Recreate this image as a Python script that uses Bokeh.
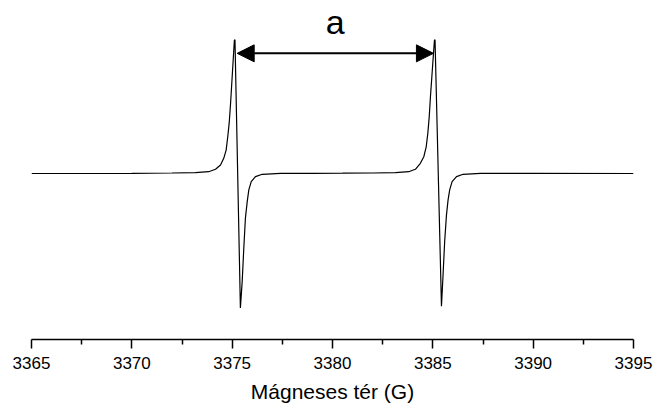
from bokeh.plotting import figure
from bokeh.models import Range1d, FixedTicker, Arrow, NormalHead, Label
from bokeh.embed import file_html
from bokeh.resources import INLINE

# Field (G) and EPR intensity (arb. units, baseline = 0)
field = [3365.00, 3370.00, 3372.00, 3373.17, 3373.83, 3374.17, 3374.42, 3374.58,
         3374.70, 3374.78, 3374.85, 3374.92, 3374.98, 3375.05, 3375.11, 3375.14,
         3375.41, 3375.50, 3375.58, 3375.66, 3375.75, 3375.83, 3375.95, 3376.16,
         3376.50, 3377.41, 3379.00, 3380.50, 3382.00,
         3383.14, 3383.80, 3384.13, 3384.38, 3384.55, 3384.67, 3384.75, 3384.82,
         3384.88, 3384.95, 3385.02, 3385.08, 3385.11,
         3385.43, 3385.51, 3385.59, 3385.68, 3385.76, 3385.84, 3385.96, 3386.18,
         3386.51, 3387.37, 3390.00, 3395.00]
intensity = [0.0, 0.2, 0.5, 0.8, 1.8, 4.2, 8.5, 15.2,
             23.5, 36.8, 50.2, 70.2, 90.2, 113.5, 133.5, 134.2,
             -134.8, -108.2, -74.8, -44.8, -28.2, -16.5, -8.2, -3.2,
             -0.8, 0.2, 0.2, 0.3, 0.5,
             0.8, 1.8, 4.2, 10.2, 16.8, 26.8, 40.2, 56.8,
             76.8, 96.8, 116.8, 133.5, 134.2,
             -133.2, -101.5, -68.2, -41.5, -26.5, -16.5, -8.2, -3.2,
             -0.8, 0.2, 0.1, 0.0]

major_ticks = [3365, 3370, 3375, 3380, 3385, 3390, 3395]
minor_ticks = [3367.5, 3372.5, 3377.5, 3382.5, 3387.5, 3392.5]

# splitting "a" between the two line centres
split_start = 3375.25
split_end = 3385.03
split_level = 120.5
split_label = "a"
label_level = 151.5

FONT = "Liberation Sans"

p = figure(width=653, height=405, output_backend="svg", toolbar_location=None,
           x_range=Range1d(3365, 3395), y_range=Range1d(-166.5, 173.5),
           y_axis_location=None, min_border_left=31, min_border_right=20,
           min_border_top=0, min_border_bottom=65)
p.outline_line_color = None
p.grid.visible = False
p.background_fill_color = "white"
p.border_fill_color = "white"

p.line(field, intensity, line_color="black", line_width=1.2)

p.add_layout(Arrow(x_start=split_start, x_end=split_end, y_start=split_level, y_end=split_level,
                   line_color="black", line_width=2,
                   start=NormalHead(size=17, fill_color="black", line_color="black"),
                   end=NormalHead(size=17, fill_color="black", line_color="black")))
p.add_layout(Label(x=(split_start + split_end) / 2, y=label_level, text=split_label,
                   text_align="center", text_baseline="alphabetic",
                   text_font=FONT, text_font_size="34px", text_color="black"))

ax = p.xaxis[0]
ax.ticker = FixedTicker(ticks=major_ticks, minor_ticks=minor_ticks)
ax.axis_line_color = "black"
ax.axis_line_width = 1.5
ax.major_tick_line_color = "black"
ax.major_tick_line_width = 1.5
ax.minor_tick_line_color = "black"
ax.minor_tick_line_width = 1.5
ax.major_tick_in = 0
ax.major_tick_out = 9
ax.minor_tick_in = 0
ax.minor_tick_out = 5
ax.major_label_text_font = FONT
ax.major_label_text_font_size = "17px"
ax.major_label_text_color = "black"
ax.major_label_standoff = 8
ax.axis_label = "Mágneses tér (G)"
ax.axis_label_text_font = FONT
ax.axis_label_text_font_size = "21px"
ax.axis_label_text_font_style = "normal"
ax.axis_label_text_color = "black"
ax.axis_label_standoff = 8

open("out.html", "w").write(file_html(p, INLINE))
